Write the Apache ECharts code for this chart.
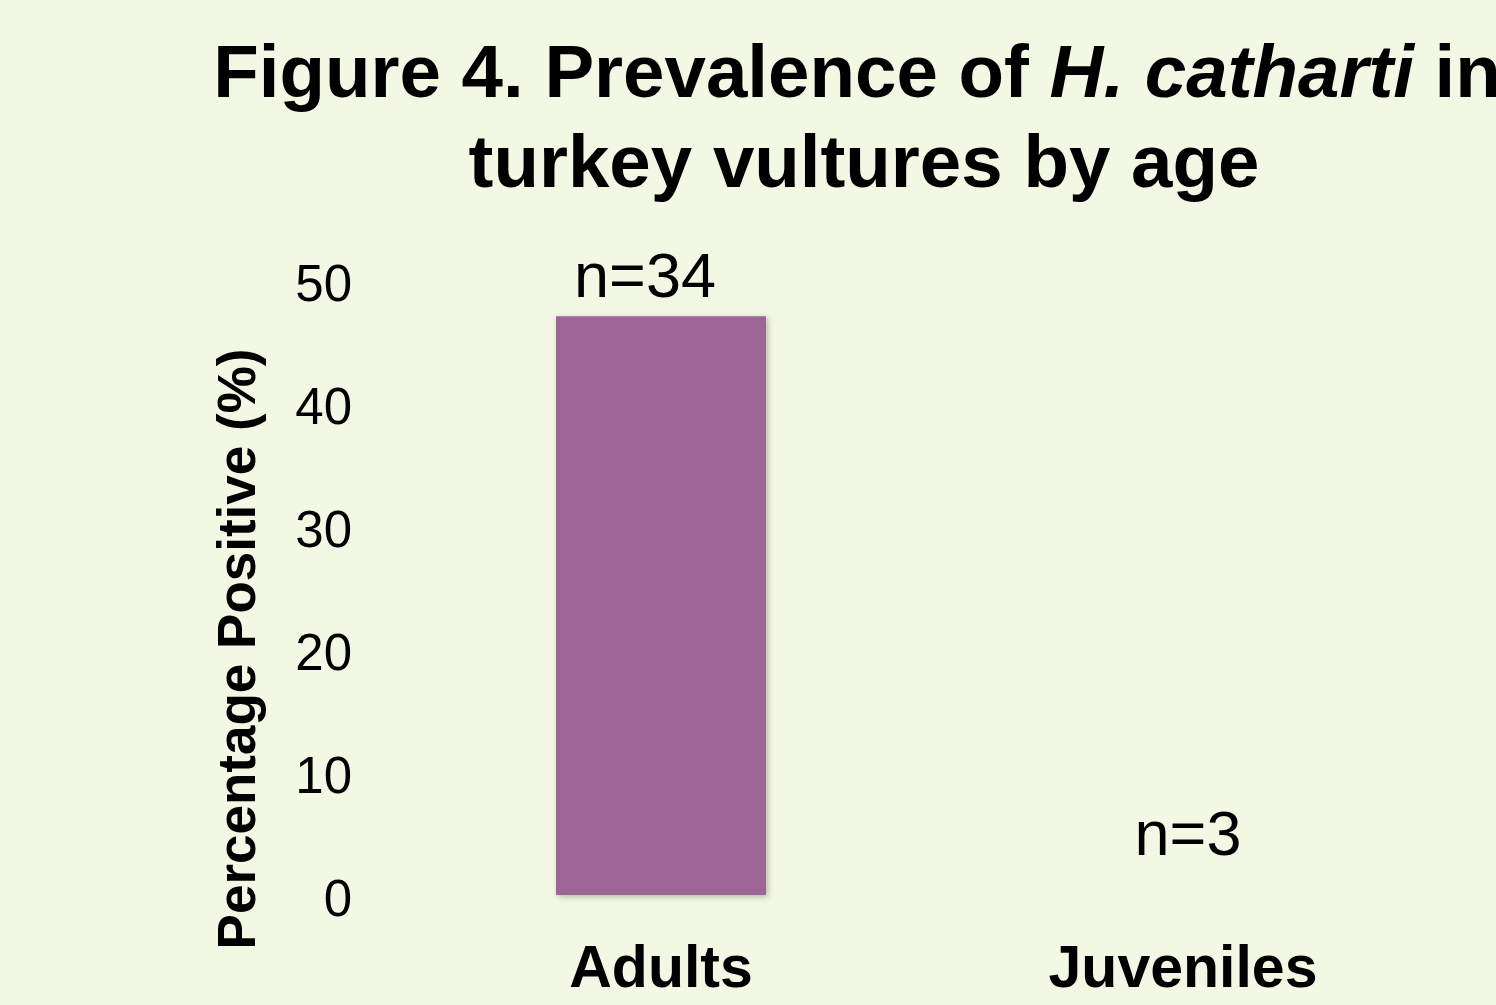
<!DOCTYPE html>
<html>
<head>
<meta charset="utf-8">
<script src="https://cdn.jsdelivr.net/npm/echarts@6/dist/echarts.min.js"></script>
<style>
html,body{margin:0;padding:0;background:#f3f8e5;}
#c{width:1496px;height:1005px;}
</style>
</head>
<body>
<div id="c"></div>
<script>
const categories = ['Adults', 'Juveniles'];
const prevalence = [47.06, 0];
const sampleLabels = ['n=34', 'n=3'];
const yTicks = [0, 10, 20, 30, 40, 50];

const chart = echarts.init(document.getElementById('c'), null, {renderer: 'canvas'});
const FONT = 'Liberation Sans, Arial, Helvetica, sans-serif';

const labelOffsets = [[-16, 0], [5, -21]];
const titleRich = {
  r: {fontFamily: FONT, fontWeight: 'bold', fontSize: 74.5, color: '#000', lineHeight: 88},
  i: {fontFamily: FONT, fontWeight: 'bold', fontStyle: 'italic', fontSize: 74.5, color: '#000', lineHeight: 88}
};

chart.setOption({
  backgroundColor: '#f3f8e5',
  animation: false,
  title: [{
    text: '{r|Figure 4. Prevalence of }{i|H. catharti}{r| in}',
    left: 852,
    textAlign: 'center',
    top: 27,
    textStyle: {rich: titleRich}
  }, {
    text: '{r|turkey vultures by age}',
    left: 859,
    textAlign: 'center',
    top: 117,
    textStyle: {rich: titleRich}
  }],
  grid: {left: 400, right: 52, top: 280, bottom: 110, containLabel: false},
  xAxis: {
    type: 'category',
    data: categories,
    axisLine: {show: false},
    axisTick: {show: false},
    axisLabel: {fontFamily: FONT, fontWeight: 'bold', fontSize: 59, color: '#000', margin: 46}
  },
  yAxis: {
    type: 'value',
    min: yTicks[0],
    max: yTicks[yTicks.length - 1],
    interval: 10,
    splitLine: {show: false},
    axisLine: {show: false},
    axisTick: {show: false},
    axisLabel: {
      margin: 48,
      formatter: '{a|{value}}',
      rich: {a: {fontFamily: FONT, fontSize: 51, color: '#000', padding: [14, 0, 0, 0]}}
    }
  },
  graphic: [{
    type: 'text',
    x: 240,
    y: 649,
    rotation: Math.PI / 2,
    style: {
      text: 'Percentage Positive (%)',
      fontFamily: FONT,
      fontWeight: 'bold',
      fontSize: 53,
      fill: '#000',
      align: 'center',
      verticalAlign: 'middle'
    }
  }],
  series: [{
    type: 'bar',
    barWidth: 210,
    data: prevalence.map((v, i) => ({
      value: v,
      label: {
        show: true,
        position: 'top',
        formatter: sampleLabels[i],
        offset: labelOffsets[i]
      }
    })),
    itemStyle: {
      color: '#9e6696',
      shadowColor: 'rgba(0,0,0,0.25)',
      shadowBlur: 6,
      shadowOffsetX: 2,
      shadowOffsetY: 2
    },
    label: {fontFamily: FONT, fontSize: 63, color: '#000'}
  }]
});
</script>
</body>
</html>
